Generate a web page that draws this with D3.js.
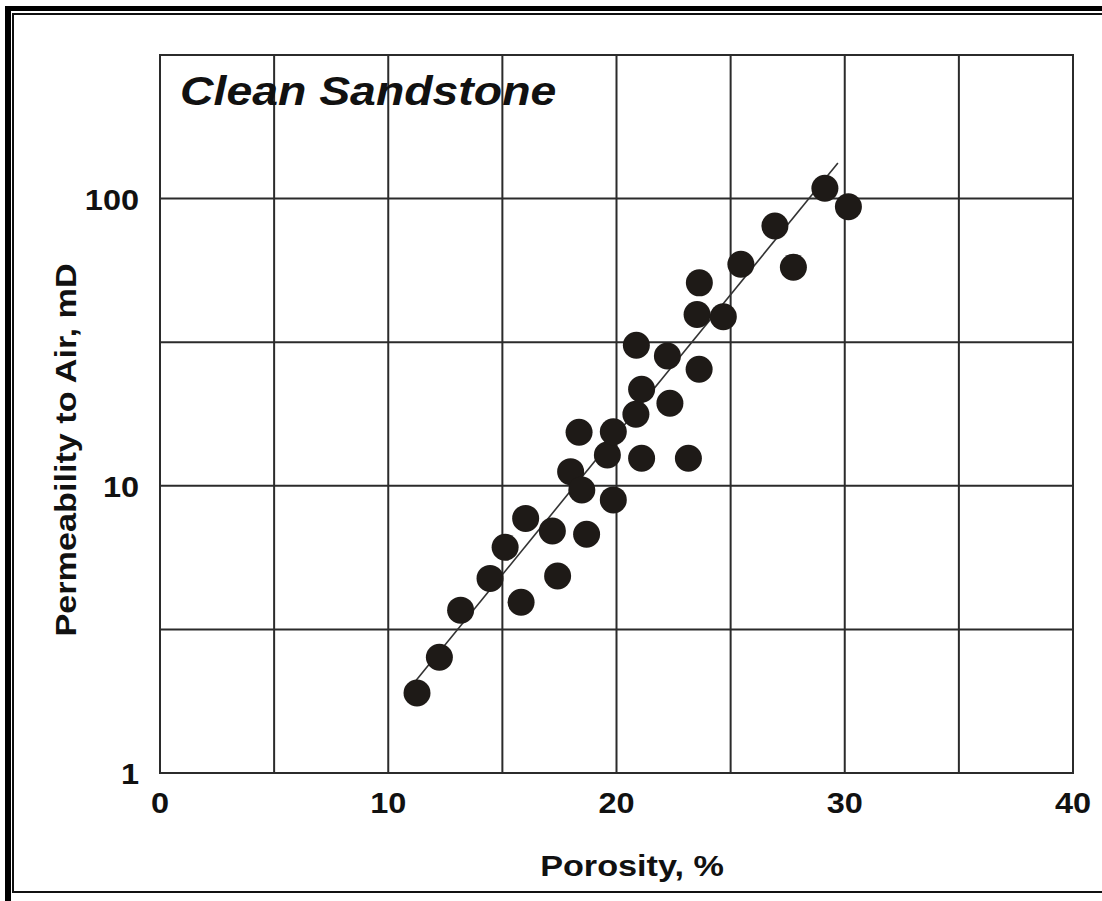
<!DOCTYPE html>
<html>
<head>
<meta charset="utf-8">
<script src="https://cdn.jsdelivr.net/npm/d3@7"></script>
<style>
  html, body { margin: 0; padding: 0; background: #fff; }
  svg { display: block; }
  text { font-family: "Liberation Sans", Arial, sans-serif; font-weight: bold; fill: #111; }
</style>
</head>
<body>
<svg id="chart" width="1102" height="901"></svg>
<script>
// Core samples: porosity (%) and air permeability (mD)
const porosity = [11.26, 12.24, 13.17, 14.46, 15.82, 15.12, 16.02, 17.42, 17.19, 18.69,
                  17.99, 18.48, 18.36, 19.86, 19.60, 19.86, 21.10, 23.15, 20.85, 22.34,
                  21.10, 23.62, 22.23, 20.87, 23.53, 24.68, 23.63, 25.45, 27.75, 26.94,
                  29.13, 30.16];
const permeability = [1.9, 2.53, 3.69, 4.76, 3.93, 6.11, 7.7, 4.85, 6.96, 6.78,
                      11.2, 9.67, 15.36, 8.93, 12.8, 15.43, 12.47, 12.47, 17.74, 19.38,
                      21.68, 25.47, 28.31, 30.85, 39.5, 38.8, 50.9, 59.1, 57.7, 80.3,
                      108.6, 93.7];

// Trend line end points (porosity %, permeability mD)
const trendPorosity = [11.0, 29.7];
const trendPermeability = [2.0, 133];

// Axis ticks
const xTicks = [0, 10, 20, 30, 40];
const xGrid = [0, 5, 10, 15, 20, 25, 30, 35, 40];
const yTicks = [1, 10, 100];
const yGridExponents = [0, 0.5, 1, 1.5, 2, 2.5];

const title = "Clean Sandstone";
const xTitle = "Porosity, %";
const yTitle = "Permeability to Air, mD";

const svg = d3.select("#chart");
const W = 1102, H = 901;
const plot = { left: 160, right: 1073, top: 55, bottom: 773 };
const stretch = 1.12;
const titleStretch = 1.18;

const x = d3.scaleLinear().domain([0, 40]).range([plot.left, plot.right]);
const y = d3.scaleLog().domain([1, Math.pow(10, 2.5)]).range([plot.bottom, plot.top]);

// Page frame: heavy rule on top/left, thin inner rule
svg.append("rect").attr("x", 5).attr("y", 6).attr("width", W - 5).attr("height", 5).attr("fill", "#000");
svg.append("rect").attr("x", 5).attr("y", 6).attr("width", 6).attr("height", H - 6).attr("fill", "#000");
svg.append("path")
  .attr("d", `M${W},14 H13 V892 H${W}`)
  .attr("fill", "none").attr("stroke", "#111").attr("stroke-width", 2);

// Grid
const grid = svg.append("g").attr("stroke", "#2b2b2b").attr("stroke-width", 2).attr("fill", "none");
grid.selectAll("line.v").data(xGrid).join("line")
  .attr("class", "v")
  .attr("x1", d => x(d)).attr("x2", d => x(d))
  .attr("y1", plot.top).attr("y2", plot.bottom);
grid.selectAll("line.h").data(yGridExponents).join("line")
  .attr("class", "h")
  .attr("x1", plot.left).attr("x2", plot.right)
  .attr("y1", d => y(Math.pow(10, d))).attr("y2", d => y(Math.pow(10, d)));
grid.append("rect")
  .attr("x", plot.left).attr("y", plot.top)
  .attr("width", plot.right - plot.left).attr("height", plot.bottom - plot.top);

// Tick labels
svg.append("g").selectAll("text").data(xTicks).join("text")
  .attr("transform", d => `translate(${x(d)},813) scale(${stretch},1)`)
  .attr("text-anchor", "middle")
  .attr("font-size", 29)
  .text(d => d);

svg.append("g").selectAll("text").data(yTicks).join("text")
  .attr("transform", d => `translate(139,${y(d) + 11}) scale(${stretch},1)`)
  .attr("text-anchor", "end")
  .attr("font-size", 29)
  .text(d => d);

// Axis titles
svg.append("text")
  .attr("transform", `translate(632,876) scale(${titleStretch},1)`)
  .attr("text-anchor", "middle")
  .attr("font-size", 29)
  .text(xTitle);

svg.append("text")
  .attr("transform", `translate(76,450) rotate(-90) scale(${titleStretch},1)`)
  .attr("text-anchor", "middle")
  .attr("font-size", 29)
  .text(yTitle);

// Chart title
svg.append("text")
  .attr("transform", `translate(180,105) scale(1.16,1)`)
  .attr("font-size", 40)
  .attr("font-style", "italic")
  .text(title);

// Trend line
svg.append("line")
  .attr("x1", x(trendPorosity[0])).attr("y1", y(trendPermeability[0]))
  .attr("x2", x(trendPorosity[1])).attr("y2", y(trendPermeability[1]))
  .attr("stroke", "#333").attr("stroke-width", 1.6);

// Sample points
svg.append("g").selectAll("circle").data(porosity).join("circle")
  .attr("cx", d => x(d))
  .attr("cy", (d, i) => y(permeability[i]))
  .attr("r", 13.5)
  .attr("fill", "#1e1a17");
</script>
</body>
</html>
